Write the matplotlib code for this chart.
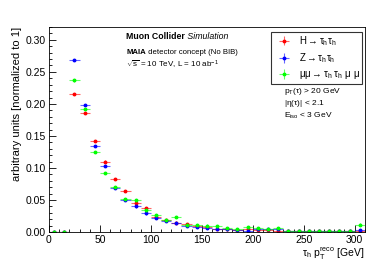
import numpy as np
import matplotlib
matplotlib.use("Agg")
import matplotlib.pyplot as plt
from matplotlib.ticker import MultipleLocator

# =====================================================
# DATA
# =====================================================

bin_edges = np.arange(0, 320, 10)   # 0..310 GeV, last bin = overflow

h_tautau = [0, 0, 0.2158, 0.186, 0.1425, 0.110, 0.0823, 0.0644, 0.046, 0.037,
            0.024, 0.019, 0.0147, 0.012, 0.009, 0.008, 0.005, 0.004, 0.003, 0.004,
            0.003, 0.003, 0.002, 0.002, 0.001, 0.001, 0.001, 0.001, 0.001, 0.001,
            0.002]

z_tautau = [0, 0, 0.268, 0.1985, 0.134, 0.1027, 0.069, 0.050, 0.0399, 0.029,
            0.022, 0.018, 0.0137, 0.010, 0.008, 0.007, 0.005, 0.004, 0.003, 0.002,
            0.004, 0.004, 0.004, 0.002, 0.001, 0.001, 0.001, 0.001, 0.001, 0.001,
            0.003]

mumu_tautau = [0, 0, 0.2367, 0.192, 0.1247, 0.0917, 0.0707, 0.0514, 0.0503, 0.034,
               0.0267, 0.0184, 0.023, 0.011, 0.011, 0.010, 0.009, 0.006, 0.004, 0.008,
               0.0058, 0.005, 0.006, 0.002, 0.002, 0.002, 0.001, 0.002, 0.001, 0.001,
               0.0116]

stat_err = 0.0018

labels = [r"H$\rightarrow\tau_{h}\tau_{h}$",
          r"Z$\rightarrow\tau_{h}\tau_{h}$",
          r"$\mu\mu\rightarrow\tau_{h}\ \tau_{h}\ \mu\ \mu$"]
colors = ["#ff0000", "#0000ff", "#00ff00"]

# =====================================================
# PLOT
# =====================================================

plt.rcParams["font.family"] = ["Liberation Sans", "DejaVu Sans"]
plt.rcParams["mathtext.fontset"] = "custom"
plt.rcParams["mathtext.rm"] = "Liberation Sans"
plt.rcParams["mathtext.it"] = "Liberation Sans:italic"
plt.rcParams["mathtext.bf"] = "Liberation Sans:bold"
plt.rcParams["mathtext.default"] = "regular"

fig = plt.figure(figsize=(3.81, 2.73), dpi=100)
ax = fig.add_axes([0.1286, 0.150, 0.829, 0.751])

centers = 0.5 * (bin_edges[:-1] + bin_edges[1:])
half_w = 0.5 * np.diff(bin_edges)

handles = []
for vals, col, lab in zip([h_tautau, z_tautau, mumu_tautau], colors, labels):
    eb = ax.errorbar(centers, vals, xerr=half_w, yerr=stat_err, fmt="o",
                     ms=1.8, color=col, ecolor=col, elinewidth=0.8,
                     capsize=0, label=lab)
    for c in eb[2]:
        c.set_alpha(0.6)
    handles.append(eb)

ax.set_xlim(0, 310)
ax.set_ylim(0, 0.32)

ax.xaxis.set_major_locator(MultipleLocator(50))
ax.xaxis.set_minor_locator(MultipleLocator(10))
ax.yaxis.set_major_locator(MultipleLocator(0.05))
ax.yaxis.set_minor_locator(MultipleLocator(0.01))
ax.yaxis.set_major_formatter(plt.FormatStrFormatter("%.2f"))
ax.tick_params(which="both", direction="in", top=False, right=False,
               labelsize=7.5, width=0.6, pad=2)
ax.tick_params(which="major", length=5)
ax.tick_params(which="minor", length=2.5)
for s in ax.spines.values():
    s.set_linewidth(0.6)

ax.set_ylabel("arbitrary units [normalized to 1]", fontsize=8, loc="top",
              labelpad=3)
ax.set_xlabel(r"$\tau_{h}$ $p_{T}^{reco}$ [GeV]", fontsize=7.5, loc="right",
              labelpad=1)

# =====================================================
# TEXT
# =====================================================

t1 = ax.text(0.245, 0.94, "Muon Collider", transform=ax.transAxes,
             fontsize=6.3, fontweight="bold")
ax.annotate(" Simulation", xy=(1, 0), xycoords=t1, fontsize=6.3,
            fontstyle="italic", va="bottom")
t2 = ax.text(0.245, 0.868, "MAIA", transform=ax.transAxes,
             fontsize=5.6, fontweight="bold")
ax.annotate(" detector concept (No BIB)", xy=(1, 0), xycoords=t2,
            fontsize=5.6, va="bottom")
ax.text(0.245, 0.80, r"$\sqrt{s}$ = 10 TeV, L = 10 ab$^{-1}$",
        transform=ax.transAxes, fontsize=5.8)

leg = ax.legend(handles=handles, loc="upper right",
                bbox_to_anchor=(0.992, 0.978), fontsize=7, frameon=True,
                fancybox=False, edgecolor="black", borderpad=0.25,
                labelspacing=0.4, handlelength=2.2, handletextpad=0.4,
                borderaxespad=0.0)
leg.get_frame().set_linewidth(0.8)

ax.text(0.745, 0.68, r"p$_{T}$($\tau$) > 20 GeV", transform=ax.transAxes,
        fontsize=6)
ax.text(0.745, 0.62, r"|$\eta$($\tau$)| < 2.1", transform=ax.transAxes,
        fontsize=6)
ax.text(0.745, 0.555, r"E$_{iso}$ < 3 GeV", transform=ax.transAxes,
        fontsize=6)

fig.savefig("out.png", dpi=100)
